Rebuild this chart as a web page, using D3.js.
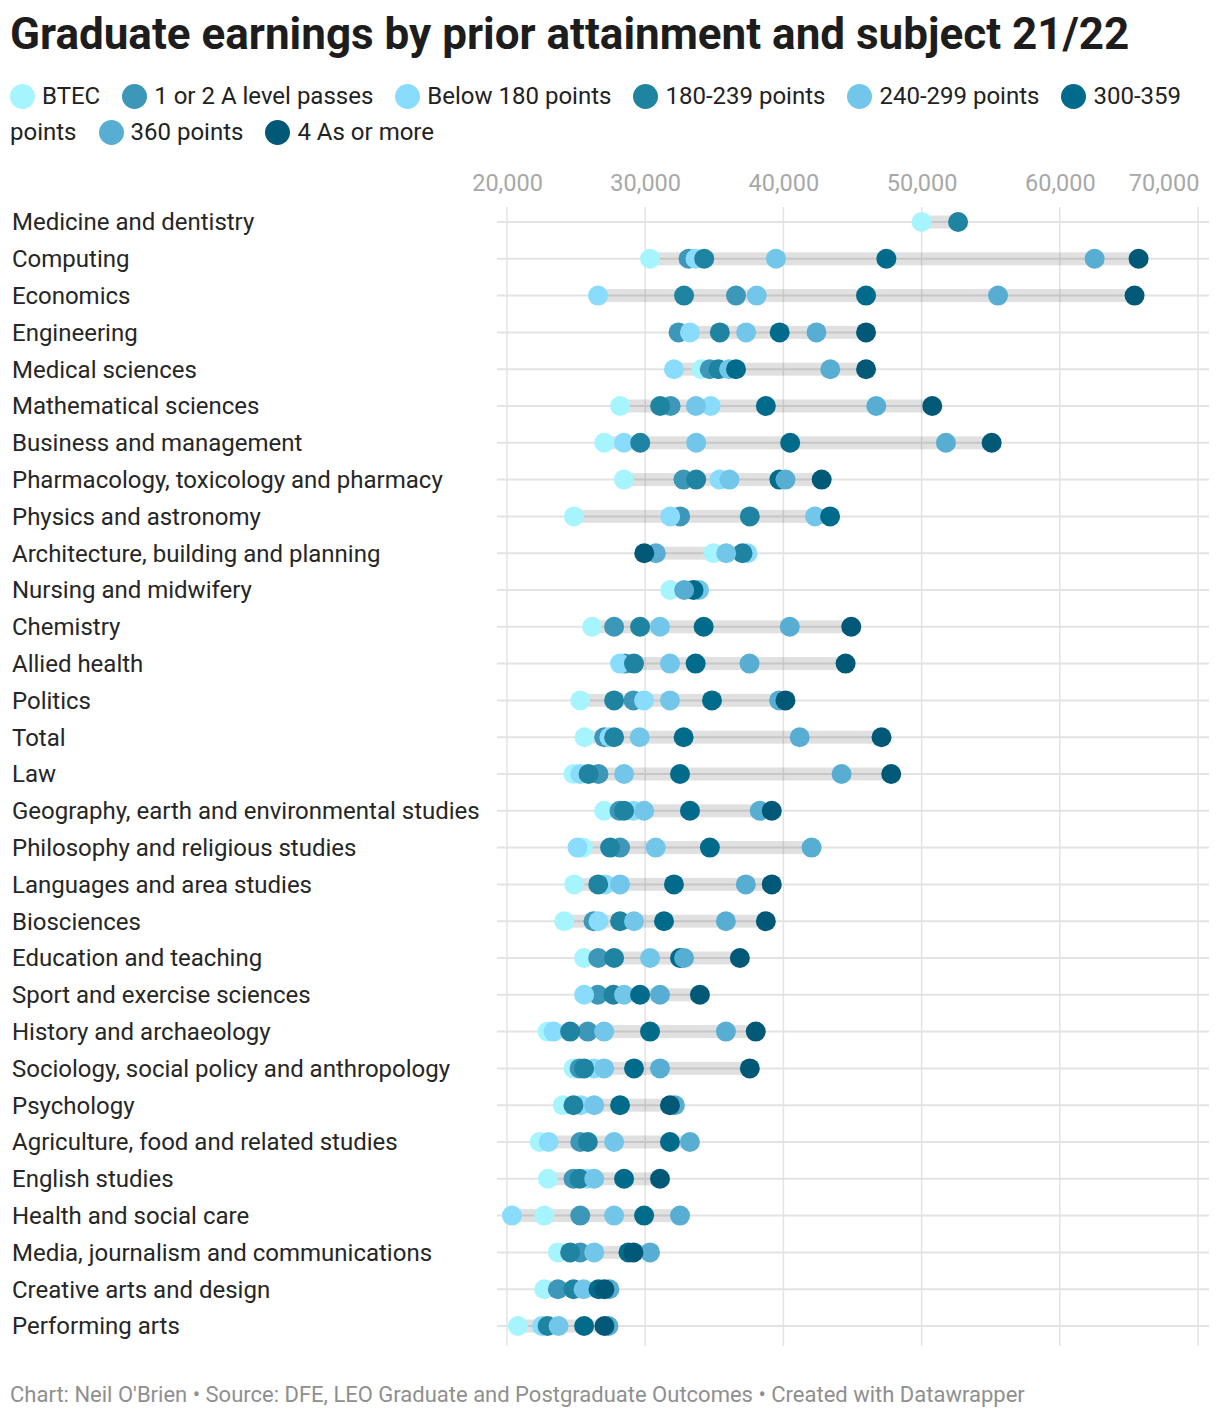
<!DOCTYPE html>
<html>
<head>
<meta charset="utf-8">
<script src="https://cdn.jsdelivr.net/npm/d3@7"></script>
<style>
  body { margin: 0; background: #fff; font-family: Roboto, "Noto Sans", sans-serif; }
  #wrap { position: relative; width: 1220px; height: 1418px; }
  #wrap svg { position: absolute; left: 0; top: 0; }
  #legend {
    position: absolute; left: 10px; top: 78px; width: 1205px;
    font-size: 24px; line-height: 36px; color: #222;
  }
  #legend .item { margin-right: 22px; }
  #legend .dot {
    display: inline-block; width: 25px; height: 25px; border-radius: 50%;
    vertical-align: -5px; margin-right: 7px;
  }
</style>
</head>
<body>
<div id="wrap">
  <div id="legend"></div>
</div>
<script>
// subjects, top to bottom
const categories = [
  "Medicine and dentistry", "Computing", "Economics", "Engineering",
  "Medical sciences", "Mathematical sciences", "Business and management",
  "Pharmacology, toxicology and pharmacy", "Physics and astronomy",
  "Architecture, building and planning", "Nursing and midwifery", "Chemistry",
  "Allied health", "Politics", "Total", "Law",
  "Geography, earth and environmental studies", "Philosophy and religious studies",
  "Languages and area studies", "Biosciences", "Education and teaching",
  "Sport and exercise sciences", "History and archaeology",
  "Sociology, social policy and anthropology", "Psychology",
  "Agriculture, food and related studies", "English studies",
  "Health and social care", "Media, journalism and communications",
  "Creative arts and design", "Performing arts"
];

// earnings per prior attainment group (null = not shown)
const btec = [50000, 30350, null, null, 34070, 28180, 27040, 28460, 24840, 34940, 31810, 26160, null, 25300, 25610, 24810, 27030, 25490, 24860, 24140, 25580, null, 22940, 24810, 24040, 22360, 22960, 22700, 23680, 22700, 20790];
const aLevel12 = [null, 33140, 36570, 32410, 34670, 31840, null, 32770, 32530, null, null, 27750, 28540, 29150, 27030, 26620, 28140, 28180, null, 26260, 26600, 26570, 25850, 25250, null, 25300, 24810, 25300, 25300, 23680, null];
const below180 = [null, 33640, 26590, 33240, 32080, 34740, 28460, 35380, 31810, 37400, null, null, 28180, 29920, 27410, 25300, 29150, 25100, 27100, 26620, null, 25580, 23370, 26310, 25340, 23010, 25780, 20360, null, null, 22530];
const pts180 = [52640, 34270, 32810, 35400, 35300, 31080, 29640, 33690, 37570, 37040, null, 29630, 29190, 27750, 27750, 25900, 28470, 27460, 26600, 28180, 27750, 27700, 24570, 25580, 24810, 25850, 25250, null, 24570, 24810, 22940];
const pts240 = [null, 39460, 38070, 37300, 36070, 33670, 33690, 36100, 42290, 35860, 33900, 31070, 31790, 31790, 29600, 28470, 29920, 30760, 28180, 29190, 30350, 28470, 27030, 27030, 26310, 27750, 26310, 27750, 26310, 25540, 23730];
const pts300 = [null, 47450, 45980, 39730, 36570, 38730, 40490, 39710, 43380, null, 33500, 34230, 33650, 34830, 32780, 32520, 33240, 34680, 32080, 31360, 32520, 29630, 30350, 29190, 28180, 31790, 28470, 29920, 28790, 26620, 25580];
const pts360 = [null, 62520, 55530, 42390, 43390, 46720, 51760, 40150, null, 30770, 32820, 40460, 37550, 39690, 41180, 44210, 38290, 42040, 37280, 35840, 32810, 31070, 35840, 31070, 32150, 33240, null, 32520, 30350, 27410, 27340];
const fourAs = [null, 65700, 65410, 45980, 45980, 50770, 55070, 42770, null, 29930, null, 44910, 44500, 40150, 47100, 47800, 39160, null, 39160, 38730, 36850, 33960, 38000, 37570, 31790, null, 31070, null, 29150, 27050, 27050];

const seriesNames = ["BTEC", "1 or 2 A level passes", "Below 180 points", "180-239 points",
                     "240-299 points", "300-359 points", "360 points", "4 As or more"];
const seriesColors = ["#a6f4fe", "#3d97b8", "#8adcfd", "#1e84a2",
                      "#72c6ea", "#006b8b", "#58aed2", "#025877"];
const seriesValues = [btec, aLevel12, below180, pts180, pts240, pts300, pts360, fourAs];

const xTicks = [20000, 30000, 40000, 50000, 60000, 70000];

const W = 1220, H = 1418;

const svg = d3.select("#wrap")
    .append("svg")
    .attr("width", W)
    .attr("height", H);

// title
svg.append("text")
    .attr("x", 10)
    .attr("y", 49)
    .attr("font-size", 44)
    .attr("font-weight", 700)
    .attr("fill", "#1d1d1d")
    .text("Graduate earnings by prior attainment and subject 21/22");

// legend (html so the last label wraps like the original)
d3.select("#legend")
    .selectAll(".item")
    .data(seriesNames)
    .enter()
    .append("span")
    .attr("class", "item")
    .each(function (d, i) {
        d3.select(this).append("span")
            .attr("class", "dot")
            .style("background", seriesColors[i]);
        this.appendChild(document.createTextNode(d));
    });

const x = d3.scaleLinear().domain([20000, 70000]).range([507, 1198]);
const y = d3.scalePoint().domain(categories).range([222, 1326]);

// vertical grid + top labels
const grid = svg.append("g");
grid.selectAll(".vline")
    .data(xTicks)
    .enter()
    .append("line")
    .attr("x1", d => x(d))
    .attr("x2", d => x(d))
    .attr("y1", 207)
    .attr("y2", 1346)
    .attr("stroke", "#e3e3e3")
    .attr("stroke-width", 1.5);

const xAxis = d3.axisTop(x)
    .tickValues(xTicks)
    .tickSize(0)
    .tickFormat(d3.format(","));
const axisG = svg.append("g")
    .attr("transform", "translate(0,183)")
    .call(xAxis);
axisG.select(".domain").remove();
axisG.selectAll("text")
    .attr("font-family", "Roboto, sans-serif")
    .attr("font-size", 23.5)
    .attr("fill", "#a8a8a8")
    .attr("y", 0)
    .attr("dy", "0.35em")
    .attr("text-anchor", (d, i) => i === xTicks.length - 1 ? "end" : "middle")
    .attr("dx", (d, i) => i === xTicks.length - 1 ? 1 : 0);

// horizontal row lines
grid.selectAll(".hline")
    .data(categories)
    .enter()
    .append("line")
    .attr("x1", 497)
    .attr("x2", 1209)
    .attr("y1", d => y(d))
    .attr("y2", d => y(d))
    .attr("stroke", "#e3e3e3")
    .attr("stroke-width", 2);

// category labels
svg.append("g")
    .selectAll("text")
    .data(categories)
    .enter()
    .append("text")
    .attr("x", 12)
    .attr("y", d => y(d))
    .attr("dy", "0.35em")
    .attr("font-size", 24)
    .attr("fill", "#262626")
    .text(d => d);

// range bars, min to max of each row
const ranges = categories.map((c, i) => {
    const vals = seriesValues.map(s => s[i]).filter(v => v != null);
    return { cat: c, lo: d3.min(vals), hi: d3.max(vals) };
});
svg.append("g")
    .selectAll("rect")
    .data(ranges)
    .enter()
    .append("rect")
    .attr("x", d => x(d.lo))
    .attr("width", d => x(d.hi) - x(d.lo))
    .attr("y", d => y(d.cat) - 6.5)
    .attr("height", 13)
    .attr("fill", "#000")
    .attr("fill-opacity", 0.12);

// dots, drawn in legend order
const dots = svg.append("g");
seriesValues.forEach((vals, si) => {
    const pts = vals.map((v, i) => ({ cat: categories[i], v: v })).filter(d => d.v != null);
    dots.append("g")
        .selectAll("circle")
        .data(pts)
        .enter()
        .append("circle")
        .attr("cx", d => x(d.v))
        .attr("cy", d => y(d.cat))
        .attr("r", 10)
        .attr("fill", seriesColors[si]);
});

// footer
svg.append("text")
    .attr("x", 10)
    .attr("y", 1402)
    .attr("font-size", 22)
    .attr("fill", "#8f8f8f")
    .text("Chart: Neil O'Brien \u2022 Source: DFE, LEO Graduate and Postgraduate Outcomes \u2022 Created with Datawrapper");
</script>
</body>
</html>
